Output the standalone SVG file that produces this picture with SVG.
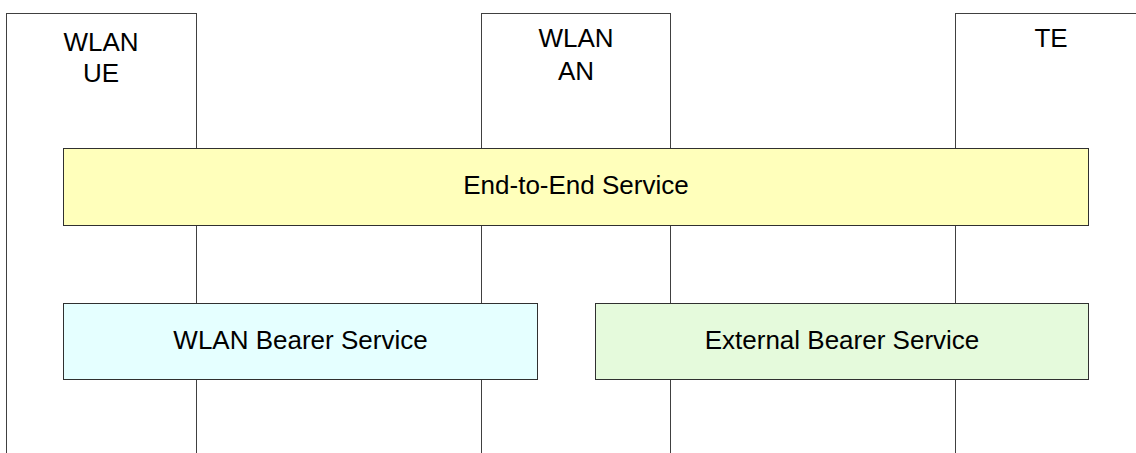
<svg xmlns="http://www.w3.org/2000/svg" width="1136" height="453" viewBox="0 0 1136 453">
  <style>
    .col { fill: #ffffff; stroke: #404040; stroke-width: 1; }
    .box { stroke: #303030; stroke-width: 1; }
    .t { font-family: "Liberation Sans", Arial, sans-serif; font-size: 26px; fill: #000000; text-anchor: middle; }
  </style>
  <rect width="1136" height="453" fill="#ffffff"/>
  <g id="wlan-ue">
    <rect class="col" x="6.5" y="13.5" width="190" height="480"/>
    <text class="t" x="101" y="51">WLAN</text>
    <text class="t" x="101" y="82">UE</text>
  </g>
  <g id="wlan-an">
    <rect class="col" x="481.5" y="13.5" width="189" height="480"/>
    <text class="t" x="576" y="47">WLAN</text>
    <text class="t" x="576" y="80">AN</text>
  </g>
  <g id="te">
    <rect class="col" x="955.5" y="13.5" width="200" height="480"/>
    <text class="t" x="1051" y="47">TE</text>
  </g>
  <g id="connectors"/>
  <g id="end-to-end-service">
    <rect class="box" x="63.5" y="148.5" width="1025" height="77" fill="#ffffbb"/>
    <text class="t" x="576" y="194">End-to-End Service</text>
  </g>
  <g id="wlan-bearer-service">
    <rect class="box" x="63.5" y="303.5" width="474" height="76" fill="#e5ffff"/>
    <text class="t" x="300.5" y="349">WLAN Bearer Service</text>
  </g>
  <g id="external-bearer-service">
    <rect class="box" x="595.5" y="303.5" width="493" height="76" fill="#e5fadc"/>
    <text class="t" x="842" y="349">External Bearer Service</text>
  </g>
</svg>
